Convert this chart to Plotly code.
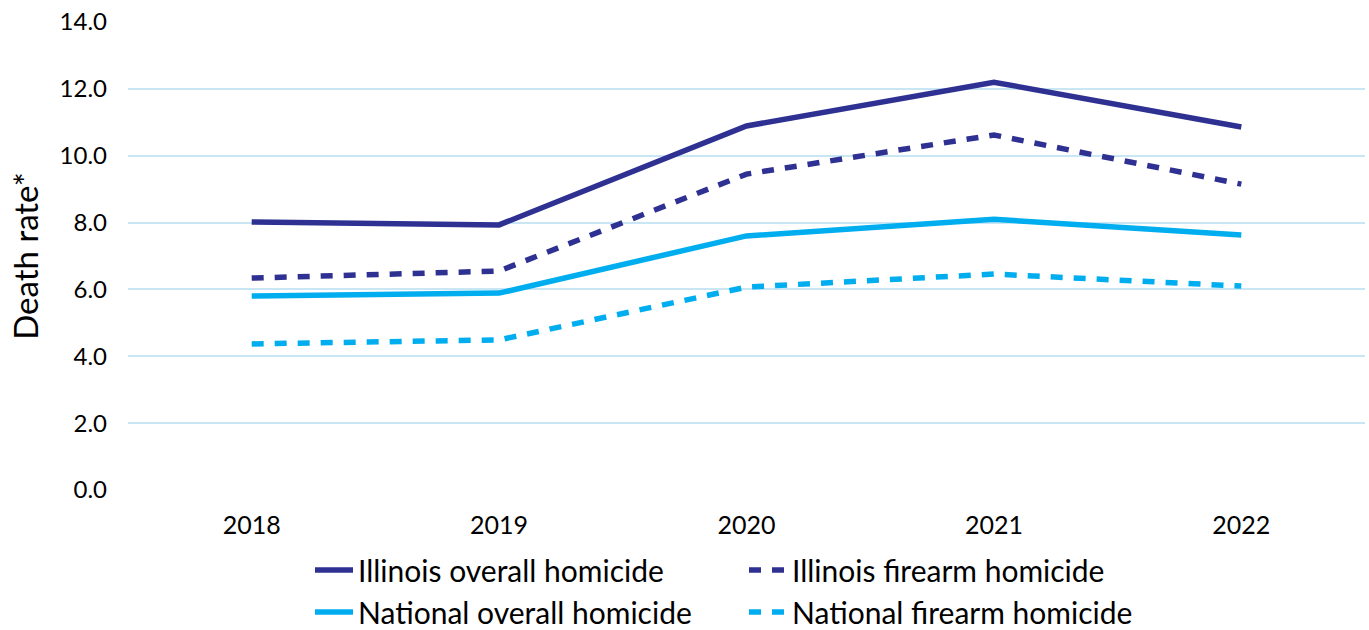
import plotly.graph_objects as go

years = ["2018", "2019", "2020", "2021", "2022"]
illinois_overall = [8.02, 7.93, 10.89, 12.2, 10.86]
illinois_firearm = [6.34, 6.55, 9.45, 10.62, 9.15]
national_overall = [5.8, 5.89, 7.6, 8.1, 7.63]
national_firearm = [4.37, 4.49, 6.07, 6.46, 6.1]

DARK = "#2E3192"
LIGHT = "#00AEEF"
DASH = "12px,11px"
FONT = "Lato, 'Open Sans', sans-serif"

series = [
    ("Illinois overall homicide", illinois_overall, DARK, "solid"),
    ("Illinois firearm homicide", illinois_firearm, DARK, DASH),
    ("National overall homicide", national_overall, LIGHT, "solid"),
    ("National firearm homicide", national_firearm, LIGHT, DASH),
]

fig = go.Figure()
for name, vals, color, dash in series:
    fig.add_trace(go.Scatter(
        x=years, y=vals, name=name, mode="lines",
        line=dict(color=color, width=5.5, dash=dash),
    ))

fig.update_layout(
    width=1369, height=630,
    margin=dict(l=128, r=4, t=22, b=140),
    paper_bgcolor="white", plot_bgcolor="white",
    font=dict(family=FONT, color="#000000", size=24),
    showlegend=True,
    legend=dict(
        orientation="h",
        xref="container", yref="container",
        x=310 / 1369, y=1 - 544 / 630,
        xanchor="left", yanchor="top",
        entrywidth=381, entrywidthmode="pixels",
        font=dict(size=30, family=FONT),
        itemwidth=38,
        tracegroupgap=0,
    ),
    xaxis=dict(
        type="category", range=[-0.5, 4.5],
        showgrid=False, zeroline=False, showline=False,
        ticks="", tickfont=dict(size=25), ticklabelstandoff=18,
    ),
    yaxis=dict(
        range=[0, 14], dtick=2, tickformat=".1f",
        showgrid=True, gridcolor="#C9E6F5", gridwidth=1.5,
        zeroline=False, showline=False, ticks="",
        tickfont=dict(size=24), ticklabelstandoff=20,
        title=dict(text="Death rate*", font=dict(size=33), standoff=11),
    ),
)

fig.write_html("out.html")
